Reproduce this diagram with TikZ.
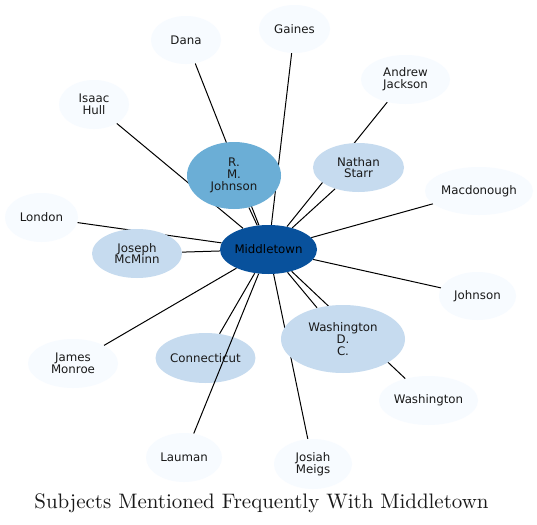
\documentclass[tikz,border=0pt]{standalone}
\usepackage{fontspec}
\newfontfamily\nodefont{DejaVu Sans}
\newfontfamily\titlefont{lmroman10-regular}[Extension=.otf]
\usetikzlibrary{shapes.geometric}
\pgfdeclarelayer{bgfill}
\pgfdeclarelayer{background}
\pgfsetlayers{bgfill,background,main}
\definecolor{bdark}{HTML}{08519C}
\definecolor{bmid}{HTML}{6BAED6}
\definecolor{blight}{HTML}{C6DBEF}
\definecolor{bpale}{HTML}{F7FBFF}
\tikzset{
  nd/.style={ellipse, inner sep=0pt, align=center, text=black!90,
    font=\nodefont\fontsize{8.85}{8.8}\selectfont},
  edge/.style={draw=black, line width=0.75pt},
}
\begin{document}
\begin{tikzpicture}[x=0.75pt, y=-0.75pt]
\begin{pgfonlayer}{bgfill}
\fill[white] (0,0) rectangle (537,525);
\end{pgfonlayer}
\useasboundingbox (0,0) rectangle (537,525);
% nodes
\node[nd, fill=bdark, text=black, minimum width=72.75pt, minimum height=36.75pt] (mid) at (268.5,249.5) {Middletown};
\node[nd, fill=bmid, minimum width=70.5pt, minimum height=50.25pt] (rmj) at (234,175.5) {R.\\M.\\Johnson};
\node[nd, fill=blight, minimum width=68.25pt, minimum height=36.75pt] (ns) at (358.5,167.5) {Nathan\\Starr};
\node[nd, fill=blight, minimum width=67.5pt, minimum height=36.75pt] (jm) at (137,253.5) {Joseph\\McMinn};
\node[nd, fill=blight, minimum width=74.25pt, minimum height=37.5pt] (ct) at (205.5,358) {Connecticut};
\node[nd, fill=blight, minimum width=93pt, minimum height=51pt] (wdc) at (343,339) {Washington\\D.\\C.};
\node[nd, fill=bpale, minimum width=52.5pt, minimum height=36pt] (dana) at (186,40) {Dana};
\node[nd, fill=bpale, minimum width=53.25pt, minimum height=36pt] (gai) at (294.5,29) {Gaines};
\node[nd, fill=bpale, minimum width=66.75pt, minimum height=36.75pt] (aj) at (405.5,79.5) {Andrew\\Jackson};
\node[nd, fill=bpale, minimum width=52.5pt, minimum height=36.75pt] (ih) at (94,104.5) {Isaac\\Hull};
\node[nd, fill=bpale, minimum width=81pt, minimum height=36pt] (mac) at (479,191) {Macdonough};
\node[nd, fill=bpale, minimum width=54.75pt, minimum height=36.75pt] (lon) at (41.5,217.5) {London};
\node[nd, fill=bpale, minimum width=57.75pt, minimum height=36pt] (joh) at (477.5,296) {Johnson};
\node[nd, fill=bpale, minimum width=67.5pt, minimum height=36.75pt] (jmo) at (73,363.5) {James\\Monroe};
\node[nd, fill=bpale, minimum width=74.25pt, minimum height=36.75pt] (wash) at (428.5,400.5) {Washington};
\node[nd, fill=bpale, minimum width=57pt, minimum height=36.75pt] (lau) at (184,457.5) {Lauman};
\node[nd, fill=bpale, minimum width=58.5pt, minimum height=37.5pt] (mei) at (313,464) {Josiah\\Meigs};
% edges behind nodes
\begin{pgfonlayer}{background}
\foreach \t in {rmj,ns,jm,ct,wdc,dana,gai,aj,ih,mac,lon,joh,jmo,wash,mei}
  \draw[edge] (mid) -- (\t);
\end{pgfonlayer}
% edge drawn over nodes
\draw[edge] (mid) -- (lau);
% title
\node[font=\titlefont\fontsize{15.7}{18}\selectfont, text=black!90] (title) at (261.5,503) {Subjects Mentioned Frequently With Middletown};
\end{tikzpicture}
\end{document}
